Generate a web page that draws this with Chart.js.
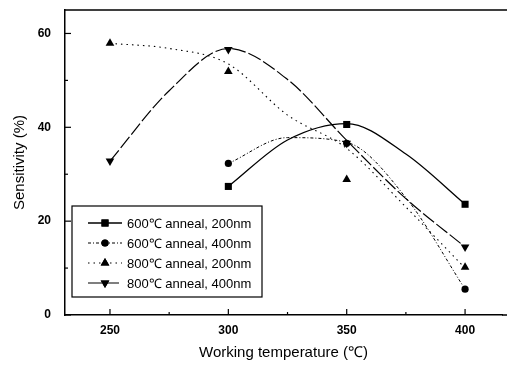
<!DOCTYPE html>
<html>
<head>
<meta charset="utf-8">
<script src="https://cdn.jsdelivr.net/npm/chart.js@4.4.0/dist/chart.umd.min.js"></script>
<style>
  html, body { margin: 0; padding: 0; background: #fff; overflow: hidden; }
  #wrap { width: 507px; height: 366px; }
  canvas { display: block; }
</style>
</head>
<body>
<div id="wrap"><canvas id="sensChart" width="507" height="366"></canvas></div>
<script>
// measured points
const temps = [250, 300, 350, 400];
const sens600_200 = [null, 27.4, 40.6, 23.6];
const sens600_400 = [null, 32.3, 36.6, 5.5];
const sens800_200 = [57.9, 51.9, 28.9, 10.2];
const sens800_400 = [32.8, 56.6, 36.6, 14.5];

// fitted curves
const fitTemps = [250, 275, 300, 325, 350, 375, 400];
const fit600_200 = [null, null, 27.4, 37.3, 40.8, 34.3, 23.6];
const fit600_400 = [null, null, 32.3, 37.8, 36.8, 25.0, 5.5];
const fit800_200 = [57.9, 56.8, 53.5, 42.6, 35.5, 23.0, 10.0];
const fit800_400 = [32.8, 47.8, 56.8, 50.2, 37.2, 24.8, 14.5];

const seriesNames = ["600\u2103 anneal, 200nm", "600\u2103 anneal, 400nm", "800\u2103 anneal, 200nm", "800\u2103 anneal, 400nm"];
const xTickValues = [250, 275, 300, 325, 350, 375, 400];
const xTickLabels = [250, 300, 350, 400];
const yTickValues = [0, 10, 20, 30, 40, 50, 60];
const yTickLabels = [0, 20, 40, 60];

const styles = [
    { dash: [], width: 1.3, point: 'rect', radius: 5, rotation: 0 },
    { dash: [3, 2, 1, 2], width: 1, point: 'circle', radius: 3.6, rotation: 0 },
    { dash: [1.5, 4], width: 1.1, point: 'triangle', radius: 5, rotation: 0 },
    { dash: [14, 3], width: 1.2, point: 'triangle', radius: 5, rotation: 180 },
];

function toXY(xs, ys) {
    const out = [];
    xs.forEach((x, i) => { if (ys[i] !== null) out.push({ x: x, y: ys[i] }); });
    return out;
}

const pointSets = [sens600_200, sens600_400, sens800_200, sens800_400];
const fitSets = [fit600_200, fit600_400, fit800_200, fit800_400];

const datasets = [];
fitSets.forEach((f, i) => {
    datasets.push({
        label: seriesNames[i] + " fit",
        data: toXY(fitTemps, f),
        borderColor: '#000',
        borderWidth: styles[i].width,
        borderDash: styles[i].dash,
        pointRadius: 0,
        fill: false,
        cubicInterpolationMode: 'monotone',
    });
});
pointSets.forEach((p, i) => {
    datasets.push({
        label: seriesNames[i],
        data: toXY(temps, p),
        showLine: false,
        pointStyle: styles[i].point,
        pointRotation: styles[i].rotation,
        pointRadius: styles[i].radius,
        pointBackgroundColor: '#000',
        pointBorderColor: '#000',
        pointBorderWidth: 0,
    });
});

function noPadding(scale) {
    scale.paddingTop = 0;
    scale.paddingBottom = 0;
    scale.paddingLeft = 0;
    scale.paddingRight = 0;
}

// inward ticks, frame lines running to the edge and boxed legend
const framePlugin = {
    id: 'frame',
    afterDraw(chart) {
        const ctx = chart.ctx;
        const area = chart.chartArea;
        const xs = chart.scales.x;
        const ys = chart.scales.y;
        ctx.save();
        ctx.strokeStyle = '#000';
        ctx.lineWidth = 1.5;
        ctx.beginPath();
        ctx.moveTo(area.left, area.top);
        ctx.lineTo(chart.width, area.top);
        ctx.moveTo(area.right, area.bottom);
        ctx.lineTo(chart.width, area.bottom);
        ctx.stroke();
        ctx.lineWidth = 1.2;
        xTickValues.forEach(v => {
            const px = xs.getPixelForValue(v);
            const len = xTickLabels.includes(v) ? 6 : 3;
            ctx.beginPath();
            ctx.moveTo(px, area.bottom);
            ctx.lineTo(px, area.bottom - len);
            ctx.stroke();
        });
        yTickValues.forEach(v => {
            const py = ys.getPixelForValue(v);
            const len = yTickLabels.includes(v) ? 6 : 3;
            ctx.beginPath();
            ctx.moveTo(area.left, py);
            ctx.lineTo(area.left + len, py);
            ctx.stroke();
        });

        // legend box
        const bx = area.left + 7, by = 206, bw = 190, bh = 91;
        ctx.lineWidth = 1.2;
        ctx.strokeRect(bx, by, bw, bh);
        ctx.font = '13px "Liberation Sans", Arial, sans-serif';
        ctx.fillStyle = '#000';
        ctx.textBaseline = 'middle';
        seriesNames.forEach((name, i) => {
            const y = 223 + i * 20;
            const st = styles[i];
            ctx.setLineDash(st.dash);
            ctx.lineWidth = st.width;
            ctx.beginPath();
            ctx.moveTo(bx + 16, y);
            ctx.lineTo(bx + 50, y);
            ctx.stroke();
            ctx.setLineDash([]);
            Chart.helpers.drawPoint(ctx, {
                pointStyle: st.point, rotation: st.rotation, radius: st.radius, borderWidth: 0
            }, bx + 33, y);
            ctx.fill();
            ctx.fillText(name, bx + 55, y + 1);
        });
        ctx.restore();
    }
};

const ctx = document.getElementById("sensChart").getContext("2d");
new Chart(ctx, {
    type: 'line',
    data: { datasets: datasets },
    plugins: [framePlugin],
    options: {
        responsive: false,
        animation: false,
        layout: { padding: { top: 10, right: 0, bottom: 0, left: 0 } },
        plugins: { legend: { display: false }, tooltip: { enabled: false } },
        scales: {
            x: {
                type: 'linear',
                min: 231,
                max: 415.6,
                afterBuildTicks: (scale) => { scale.ticks = xTickValues.map(v => ({ value: v })); },
                afterFit: (scale) => { scale.height = 51; noPadding(scale); },
                ticks: {
                    padding: 8,
                    color: '#000',
                    font: { family: '"Liberation Sans", Arial, sans-serif', size: 12, weight: 'bold' },
                    callback: (v) => xTickLabels.includes(v) ? String(v) : '',
                },
                grid: { display: true, drawOnChartArea: false, drawTicks: false },
                border: { display: true, color: '#000', width: 1.5 },
                title: {
                    display: true,
                    text: 'Working temperature (\u2103)',
                    color: '#000',
                    font: { family: '"Liberation Sans", Arial, sans-serif', size: 15 },
                    padding: { top: 0, bottom: 4 },
                },
            },
            y: {
                min: 0,
                max: 65,
                afterBuildTicks: (scale) => { scale.ticks = yTickValues.map(v => ({ value: v })); },
                afterFit: (scale) => { scale.width = 65; noPadding(scale); },
                ticks: {
                    padding: 14,
                    color: '#000',
                    font: { family: '"Liberation Sans", Arial, sans-serif', size: 12, weight: 'bold' },
                    callback: (v) => yTickLabels.includes(v) ? String(v) : '',
                },
                grid: { display: true, drawOnChartArea: false, drawTicks: false },
                border: { display: true, color: '#000', width: 1.5 },
                title: {
                    display: true,
                    text: 'Sensitivity (%)',
                    color: '#000',
                    font: { family: '"Liberation Sans", Arial, sans-serif', size: 15 },
                    padding: { top: 11, bottom: 0 },
                },
            },
        },
    },
});
</script>
</body>
</html>
